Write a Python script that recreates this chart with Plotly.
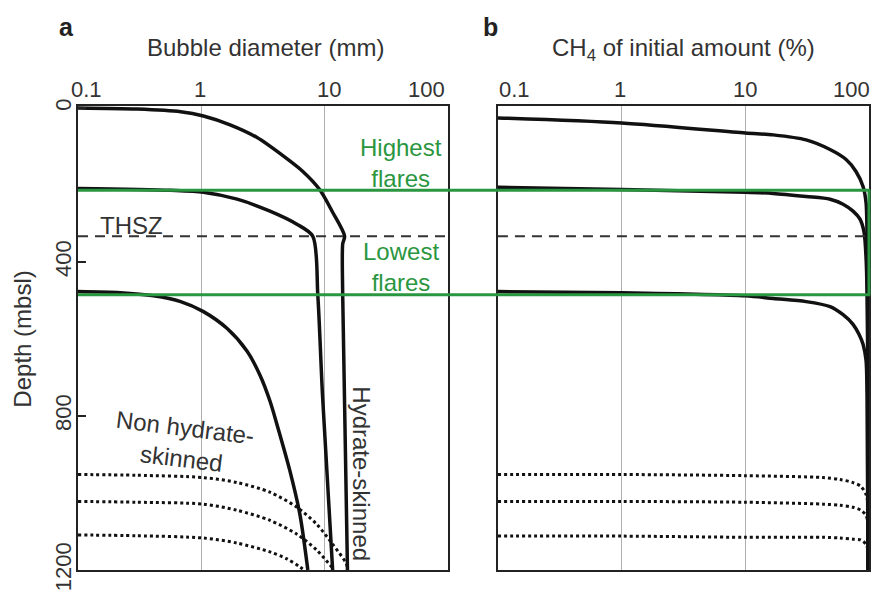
import math
import plotly.graph_objects as go

# ---------------- data ----------------
x_tick_vals = [0.1, 1, 10, 100]
x_tick_text = ["0.1", "1", "10", "100"]
y_tick_vals = [0, 400, 800, 1200]
y_tick_text = ["0", "400", "800", "1200"]

THSZ_depth = 333
flare_top_depth = 214
flare_bottom_depth = 485

# Panel a: bubble diameter (mm) vs depth (mbsl)
hydA_depth = [0, 3, 10, 21, 44, 77, 124, 165, 212, 271, 333, 353, 488, 1200]
hydA_diam = [0.1, 0.3, 0.68, 1.04, 1.71, 2.83, 4.58, 6.65, 9.1, 11.6, 14.5, 14.0, 14.0, 15.3]

hydB_depth = [209, 214, 219, 237, 268, 302, 333, 488, 746, 1200]
hydB_diam = [0.1, 0.56, 1.04, 1.95, 3.6, 5.95, 8.0, 8.8, 9.6, 11.6]

nonhyd_depth = [477, 480, 488, 503, 529, 573, 632, 694, 761, 831, 942, 1055, 1200]
nonhyd_diam = [0.1, 0.22, 0.41, 0.68, 1.04, 1.62, 2.35, 2.99, 3.6, 4.18, 5.22, 6.29, 7.3]

dotA1_depth = [952, 954, 960, 973, 998, 1037, 1081, 1133, 1184, 1200]
dotA1_diam = [0.1, 0.3, 1.04, 1.95, 3.6, 5.95, 8.6, 11.6, 15.0, 15.3]
dotA2_depth = [1022, 1024, 1029, 1045, 1071, 1107, 1148, 1195]
dotA2_diam = [0.1, 0.3, 1.04, 1.95, 3.6, 5.95, 8.6, 11.6]
dotA3_depth = [1109, 1111, 1117, 1130, 1153, 1171, 1192, 1200]
dotA3_diam = [0.1, 0.3, 1.04, 1.95, 3.6, 4.94, 6.29, 6.8]

# Panel b: CH4 of initial amount (%) vs depth
chA_depth = [26, 39, 65, 70, 83, 108, 134, 165, 204, 245, 323, 600, 1200]
chA_pct = [0.1, 1, 10, 16.8, 31, 48.4, 65.3, 78.5, 89.5, 94.6, 96.4, 97.5, 98.3]
chB_depth = [206, 212, 219, 222, 230, 237, 250, 268, 289, 323, 400, 600, 1200]
chB_pct = [0.1, 1, 10, 16.8, 31, 48.4, 61.7, 74.3, 84.6, 91.2, 95.0, 97.5, 98.3]
chC_depth = [477, 480, 488, 495, 503, 516, 537, 562, 588, 614, 655, 746, 1200]
chC_pct = [0.1, 1, 10, 16.8, 31, 48.4, 61.7, 74.3, 83.0, 89.5, 94.6, 96.4, 98.3]

dotB_pct = [0.1, 1, 10, 42.6, 58.3, 74.3, 86, 94.6, 98, 98.8]
dotB1_depth = [952, 952, 955, 960, 965, 973, 983, 1004, 1029, 1200]
dotB2_depth = [1022, 1022, 1024, 1029, 1032, 1037, 1045, 1058, 1081, 1200]
dotB3_depth = [1112, 1112, 1115, 1115, 1117, 1120, 1122, 1133, 1148, 1200]

# ---------------- figure ----------------
FONT = "Liberation Sans, Arial, sans-serif"
TXT = "#333333"
GREEN = "#2a9640"
BLACK = "#111111"

fig = go.Figure()

def solid(x, y, xa, ya):
    fig.add_trace(go.Scatter(x=x, y=y, xaxis=xa, yaxis=ya, mode="lines",
                             line=dict(color=BLACK, width=3.5, shape="spline", smoothing=0.8),
                             showlegend=False, hoverinfo="skip"))

def dotted(x, y, xa, ya):
    fig.add_trace(go.Scatter(x=x, y=y, xaxis=xa, yaxis=ya, mode="lines",
                             line=dict(color=BLACK, width=3, dash="3px,3px", shape="spline", smoothing=0.8),
                             showlegend=False, hoverinfo="skip"))

solid(hydA_diam, hydA_depth, "x", "y")
solid(hydB_diam, hydB_depth, "x", "y")
solid(nonhyd_diam, nonhyd_depth, "x", "y")
dotted(dotA1_diam, dotA1_depth, "x", "y")
dotted(dotA2_diam, dotA2_depth, "x", "y")
dotted(dotA3_diam, dotA3_depth, "x", "y")

solid(chA_pct, chA_depth, "x2", "y2")
solid(chB_pct, chB_depth, "x2", "y2")
solid(chC_pct, chC_depth, "x2", "y2")
dotted(dotB_pct, dotB1_depth, "x2", "y2")
dotted(dotB_pct, dotB2_depth, "x2", "y2")
dotted(dotB_pct, dotB3_depth, "x2", "y2")

xcommon = dict(type="log", range=[-1, 2], side="top", showgrid=True, gridcolor="#b0b0b0",
               gridwidth=1, tickvals=x_tick_vals, showticklabels=False, ticks="",
               showline=True, linecolor="#222222", linewidth=2, mirror=True, zeroline=False)
ycommon = dict(range=[1200, -5], showgrid=False, zeroline=False, showline=True,
               linecolor="#222222", linewidth=2, mirror=True)

fig.update_layout(
    width=875, height=595,
    margin=dict(l=78, r=4, t=106, b=22),
    paper_bgcolor="white", plot_bgcolor="white",
    font=dict(family=FONT, color=TXT, size=22),
    xaxis=dict(domain=[0, 0.4678], anchor="y", **xcommon),
    xaxis2=dict(domain=[0.5309, 1], anchor="y2", **xcommon),
    yaxis=dict(anchor="x", tickvals=y_tick_vals, ticktext=y_tick_text, ticks="inside",
               ticklen=8, tickwidth=2, tickcolor="#222222", tickangle=-90,
               ticklabelstandoff=-4,
               tickfont=dict(size=22, color=TXT), **ycommon),
    yaxis2=dict(anchor="x2", showticklabels=False, ticks="", **ycommon),
)

shapes = []
# THSZ dashed lines
for xr, yr in [("x domain", "y"), ("x2 domain", "y2")]:
    shapes.append(dict(type="line", xref=xr, yref=yr, x0=0, x1=1, y0=THSZ_depth, y1=THSZ_depth,
                       line=dict(color="#333333", width=2, dash="10px,7px")))
# green flare box
for d in [flare_top_depth, flare_bottom_depth]:
    shapes.append(dict(type="line", xref="paper", yref="y", x0=0, x1=1.0015, y0=d, y1=d,
                       line=dict(color=GREEN, width=3)))
shapes.append(dict(type="line", xref="paper", yref="y", x0=1.0, x1=1.0,
                   y0=flare_top_depth, y1=flare_bottom_depth, line=dict(color=GREEN, width=3)))
fig.update_layout(shapes=shapes)

ann = []
# x tick labels (placed on the log axes)
shift_a = [8, -1, 4, -22]
shift_b = [17, -2, 0, -18]
for xr, shifts in [("x", shift_a), ("x2", shift_b)]:
    for v, t, s in zip(x_tick_vals, x_tick_text, shifts):
        ann.append(dict(x=math.log10(v), y=1.036, xref=xr, yref="paper", text=t, showarrow=False,
                        xshift=s, xanchor="center", yanchor="middle",
                        font=dict(size=22, color=TXT)))

def paper_x(px):
    return (px - 78) / 793

def paper_y(py):
    return (573 - py) / 467

ann += [
    dict(x=paper_x(266), y=paper_y(47), text="Bubble diameter (mm)", font=dict(size=24)),
    dict(x=paper_x(685), y=paper_y(49), text="CH<sub>4</sub> of initial amount (%)", font=dict(size=24)),
    dict(x=paper_x(66), y=paper_y(26), text="<b>a</b>", font=dict(size=25, color="#222")),
    dict(x=paper_x(492), y=paper_y(26), text="<b>b</b>", font=dict(size=25, color="#222")),
    dict(x=paper_x(22), y=paper_y(341), text="Depth (mbsl)", textangle=-90, font=dict(size=24)),
    dict(x=paper_x(402), y=paper_y(163), text="Highest<br>flares", font=dict(size=24, color=GREEN)),
    dict(x=paper_x(402), y=paper_y(268), text="Lowest<br>flares", font=dict(size=24, color=GREEN)),
    dict(x=paper_x(132), y=paper_y(226), text="THSZ", font=dict(size=24)),
    dict(x=paper_x(184), y=paper_y(445), text="Non hydrate-<br>skinned", textangle=7, font=dict(size=24)),
    dict(x=paper_x(362), y=paper_y(476), text="Hydrate-skinned", textangle=90, font=dict(size=24)),
]
for a in ann[8:]:
    a.setdefault("xref", "paper")
    a.setdefault("yref", "paper")
    a.setdefault("showarrow", False)
    a.setdefault("xanchor", "center")
    a.setdefault("yanchor", "middle")
fig.update_layout(annotations=ann)

fig.write_html("out.html", config={"displayModeBar": False},
               post_script="document.body.style.margin='0px';document.body.style.overflow='hidden';")
